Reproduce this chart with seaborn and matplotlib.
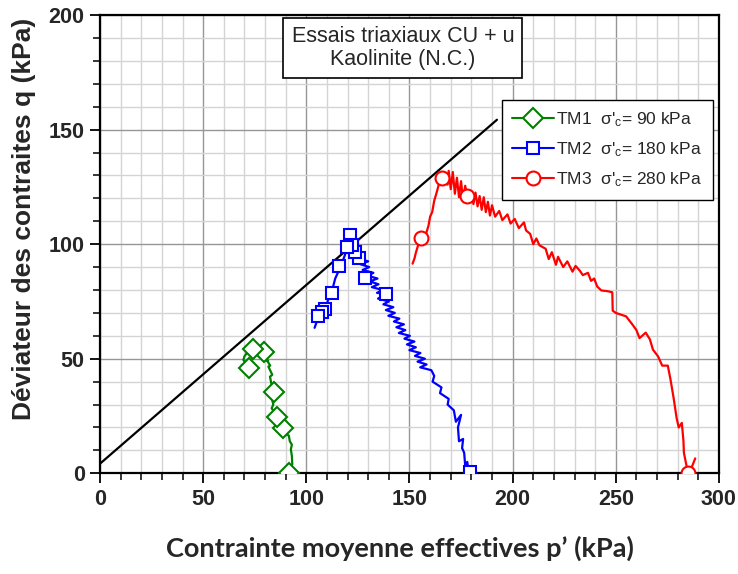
import matplotlib
matplotlib.use("Agg")
import matplotlib.pyplot as plt
from matplotlib.lines import Line2D
from matplotlib.ticker import MultipleLocator
import pandas as pd
import seaborn as sns

# Ligne d'etat critique
cs_p = [0, 192.4]
cs_q = [4.2, 154.3]

# TM1 - sigma'c = 90 kPa
tm1_p = [93.5, 92.5, 91.8, 93.2, 93.0, 92.5, 93.0, 92.0, 91.5, 90.5, 89.5, 88.9, 89.5, 88.0,
         86.5, 85.6, 84.5, 83.2, 84.0, 83.5, 84.5, 84.5, 84.0, 83.0, 82.4, 83.5, 81.6, 82.5,
         80.8, 81.5, 79.5, 80.5, 78.5, 77.6, 76.5, 75.5, 74.0, 72.5, 71.1, 70.0, 69.5, 72.0,
         70.0, 68.7]
tm1_q = [0.5, 0.3, 0.0, 4.0, 7.5, 10.5, 12.5, 14.0, 16.5, 17.0, 18.5, 19.6, 22.0, 23.5,
         24.0, 24.7, 26.5, 28.4, 30.0, 31.9, 33.5, 35.6, 37.5, 39.3, 42.2, 43.0, 46.6, 47.0,
         49.5, 49.0, 50.5, 52.8, 51.5, 51.0, 53.0, 54.5, 54.1, 53.5, 52.4, 51.0, 49.5, 46.1,
         47.5, 47.3]
tm1_mp = [91.8, 88.9, 85.6, 84.5, 79.5, 74.0, 72.0]
tm1_mq = [0.0, 19.6, 24.7, 35.6, 52.8, 54.1, 46.1]

# TM2 - sigma'c = 180 kPa
tm2_p = [181.5, 179.5, 178.5, 178.0, 177.0, 176.5, 175.5, 176.0, 174.0, 173.5, 175.0, 172.5,
         171.5, 168.5, 169.0, 164.8, 165.5, 161.2, 162.0,
         160.6, 155.2, 158.3, 153.9, 157.5, 152.65, 155.3, 149.95, 153.1, 148.75, 152.4, 147.55,
         150.2, 144.85, 148.0, 143.65, 147.3, 142.45, 145.1, 139.75, 142.9, 138.55, 142.2, 137.35,
         140.0, 134.75, 138.6, 134.25, 137.0, 131.75, 135.0, 130.75, 134.5, 129.75, 132.5, 127.25,
         130.5, 126.25, 130.0, 125.25, 128.0, 122.75, 126.0, 121.75, 124.5,
         122.5, 122.0, 121.2, 121.0, 120.5, 119.6,
         119.0, 118.0, 116.5, 116.0, 115.5, 114.0, 113.0, 112.3, 112.0, 110.5, 109.1, 109.0,
         107.4, 107.5, 106.0, 105.8, 105.0, 104.0]
tm2_q = [0.5, 0.5, 2.0, 5.0, 3.5, 9.0, 11.0, 15.0, 14.0, 20.0, 25.5, 22.5,
         27.5, 30.0, 32.5, 35.0, 37.5, 40.0, 42.5,
         45.0, 46.25, 47.5, 48.75, 50.0, 51.25, 52.5, 53.75, 55.0, 56.25, 57.5, 58.75,
         60.0, 61.25, 62.5, 63.75, 65.0, 66.25, 67.5, 68.75, 70.0, 71.25, 72.5, 73.75,
         75.0, 76.25, 78.3, 78.75, 80.0, 81.25, 82.5, 83.75, 85.0, 86.25, 87.5, 88.75,
         90.0, 91.25, 92.5, 93.75, 95.0, 96.25, 97.5, 98.75, 100.0,
         103.0, 105.5, 104.1, 103.0, 99.0, 98.9,
         96.0, 93.5, 90.5, 90.5, 88.0, 85.0, 81.5, 78.9, 78.5, 75.5, 71.6, 72.5,
         70.2, 70.5, 68.5, 68.7, 66.0, 63.5]
tm2_mp = [179.5, 138.6, 128.6, 125.7, 123.6, 121.2, 122.0, 119.6, 116.0, 112.3, 109.1, 107.4, 105.8]
tm2_mq = [0.5, 78.3, 85.2, 93.9, 96.8, 104.1, 99.6, 98.9, 90.5, 78.9, 71.6, 70.2, 68.7]

# TM3 - sigma'c = 280 kPa
tm3_p = [288.5, 286.5, 285.0, 284.0, 283.0, 282.8, 282.0, 280.5, 279.5, 278.0, 276.5, 275.2,
         272.5, 270.5, 268.0, 266.5, 264.5, 261.5, 260.0, 258.0, 255.0, 250.0, 248.5, 248.3,
         246.0, 243.0, 241.0, 239.5, 238.0, 236.5, 234.0, 232.5, 230.5, 229.0, 226.5, 224.5,
         222.0, 221.0, 219.0, 217.5, 216.0, 213.0, 211.5, 210.0, 208.5, 206.5, 205.5, 203.0,
         201.0, 199.0, 197.5, 195.0, 193.5, 191.5, 190.0, 189.0, 188.0, 187.0, 186.0, 185.0,
         184.0, 183.0, 182.0, 181.0, 180.0, 179.0, 178.0, 177.0, 176.0, 175.0, 174.0, 173.0,
         172.0, 171.0, 170.0, 169.0, 168.5, 167.5, 166.0, 164.5, 163.0, 162.0, 161.0, 160.0,
         159.2, 158.0, 156.5, 155.5, 154.0, 153.0, 152.5, 151.5]
tm3_q = [6.5, 2.0, 0.3, 4.5, 9.0, 14.0, 22.0, 20.0, 24.0, 33.0, 41.0, 47.0,
         47.0, 51.0, 54.0, 58.5, 61.4, 59.0, 62.5, 65.0, 68.5, 70.0, 71.0, 79.0,
         79.5, 79.8, 81.5, 85.0, 84.0, 87.5, 86.5, 88.5, 90.5, 88.0, 92.5, 90.0,
         94.5, 91.0, 96.5, 93.5, 98.0, 99.5, 102.5, 100.0, 104.5, 106.0, 109.5, 107.0,
         111.0, 109.0, 113.0, 110.5, 114.5, 112.0, 117.0, 112.5, 118.5, 114.0, 120.5, 115.0,
         121.0, 116.5, 122.5, 117.5, 123.0, 118.5, 121.0, 125.5, 119.0, 127.5, 120.5, 129.0,
         122.0, 131.5, 124.0, 132.0, 126.0, 130.5, 128.7, 127.0, 122.0, 119.0, 114.0, 112.0,
         108.0, 104.5, 103.0, 102.5, 99.0, 96.0, 94.0, 91.5]
tm3_mp = [285.0, 178.0, 166.0, 155.5]
tm3_mq = [0.3, 121.0, 128.7, 102.5]

labels = [r"TM1  σ'$_{\mathrm{c}}$= 90 kPa",
          r"TM2  σ'$_{\mathrm{c}}$= 180 kPa",
          r"TM3  σ'$_{\mathrm{c}}$= 280 kPa"]

sns.set_style("white")
plt.rcParams["font.family"] = ["Liberation Sans", "DejaVu Sans"]
plt.rcParams["mathtext.fontset"] = "custom"
plt.rcParams["mathtext.rm"] = "Liberation Sans"
plt.rcParams["mathtext.it"] = "Liberation Sans:italic"

fig = plt.figure(figsize=(7.38, 5.74), dpi=100)
ax = fig.add_axes([0.1355, 0.1754, 0.8387, 0.7984])

series = [
    (tm1_p, tm1_q, tm1_mp, tm1_mq, "green", "D", 10),
    (tm2_p, tm2_q, tm2_mp, tm2_mq, "blue", "s", 8.5),
    (tm3_p, tm3_q, tm3_mp, tm3_mq, "red", "o", 10),
]

sns.lineplot(x=cs_p, y=cs_q, color="black", lw=1.6, ax=ax, sort=False, estimator=None)

handles = []
for (p, q, mp, mq, col, mk, ms), lab in zip(series, labels):
    df = pd.DataFrame({"p": p, "q": q})
    sns.lineplot(data=df, x="p", y="q", color=col, lw=1.6, sort=False, estimator=None, ax=ax)
    mdf = pd.DataFrame({"p": mp, "q": mq})
    sns.lineplot(data=mdf, x="p", y="q", color=col, lw=0, marker=mk, markersize=ms,
                 markerfacecolor="white", markeredgecolor=col, markeredgewidth=1.5,
                 sort=False, estimator=None, ax=ax, zorder=3)
    handles.append(Line2D([], [], color=col, lw=1.5, marker=mk, markersize=ms,
                          markerfacecolor="white", markeredgecolor=col, markeredgewidth=1.5,
                          label=lab))

ax.set_xlim(0, 300)
ax.set_ylim(0, 200)
ax.xaxis.set_major_locator(MultipleLocator(50))
ax.xaxis.set_minor_locator(MultipleLocator(10))
ax.yaxis.set_major_locator(MultipleLocator(50))
ax.yaxis.set_minor_locator(MultipleLocator(10))
ax.grid(which="major", color="#969696", lw=1.0)
ax.grid(which="minor", color="#d4d4d4", lw=1.0)
ax.set_axisbelow(True)
for s in ax.spines.values():
    s.set_color("black")
    s.set_linewidth(1.6)
ax.tick_params(which="major", direction="out", length=7, width=1.3, color="black",
               bottom=True, left=True, labelsize=15.5, pad=4)
ax.tick_params(which="minor", direction="out", length=5, width=1.1, color="black",
               bottom=True, left=True)
for t in ax.get_xticklabels() + ax.get_yticklabels():
    t.set_fontweight("bold")

ax.set_ylabel("Déviateur des contraites q (kPa)", fontsize=19, fontweight="bold")
ax.yaxis.set_label_coords(-0.103, 0.555)
ax.set_xlabel("Contrainte moyenne effectives p’ (kPa)", fontsize=19.5, fontweight="bold",
              family=["Lato", "DejaVu Sans"])
ax.xaxis.set_label_coords(0.484, -0.135)

ax.text(0.4895, 0.928, "Essais triaxiaux CU + u\nKaolinite (N.C.)", transform=ax.transAxes,
        ha="center", va="center", fontsize=15.5, linespacing=1.15,
        bbox=dict(boxstyle="square,pad=0.38", fc="white", ec="black", lw=1.2))

leg = ax.legend(handles=handles, loc="upper right", bbox_to_anchor=(0.99, 0.8145),
                borderaxespad=0, fontsize=12.5, frameon=True, fancybox=False, framealpha=1,
                handlelength=2.4, labelspacing=0.65, borderpad=0.6, handletextpad=0.15)
leg.get_frame().set_edgecolor("black")
leg.get_frame().set_linewidth(1.0)

fig.savefig("out.png", dpi=100)
